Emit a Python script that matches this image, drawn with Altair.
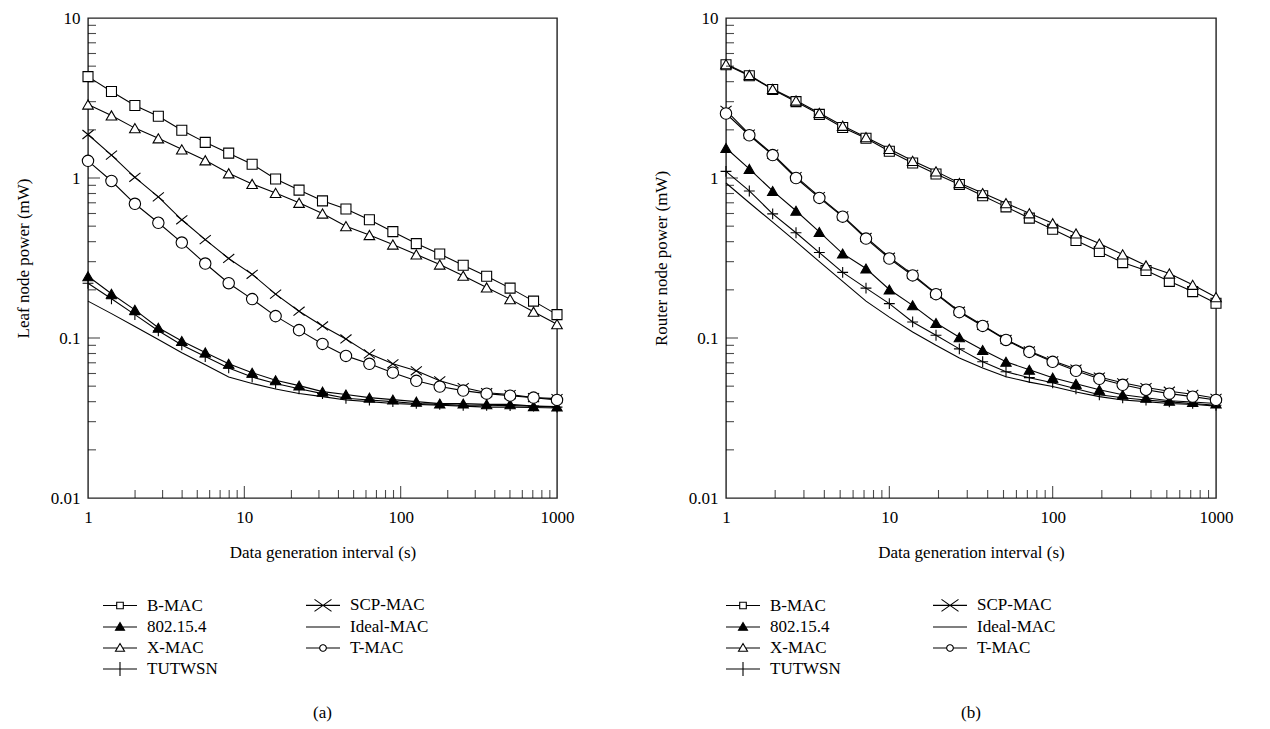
import math
import altair as alt
import pandas as pd

FONT = "Liberation Serif"
WL, WR, H = 469, 490, 480
FS = 17

# x positions of the simulated points (log spaced, 1 .. 1000 s)
X_LEAF = [1, 1.413, 1.995, 2.818, 3.981, 5.623, 7.943, 11.22, 15.85, 22.39, 31.62,
          44.67, 63.10, 89.13, 125.9, 177.8, 251.2, 354.8, 501.2, 707.9, 1000]
X_ROUTER = [1, 1.389, 1.931, 2.683, 3.728, 5.179, 7.197, 10.0, 13.89, 19.31, 26.83,
            37.28, 51.79, 71.97, 100.0, 138.9, 193.1, 268.3, 372.8, 517.9, 719.7, 1000]

# (a) leaf node power (mW)
leaf_bmac = [4.30, 3.47, 2.84, 2.43, 1.99, 1.67, 1.43, 1.22, 0.986, 0.84, 0.72,
             0.64, 0.548, 0.462, 0.389, 0.335, 0.285, 0.243, 0.205, 0.17, 0.14]
leaf_802 = [0.243, 0.189, 0.15, 0.116, 0.0957, 0.0813, 0.069, 0.0607, 0.0544, 0.0504, 0.0462,
            0.0443, 0.0424, 0.0412, 0.040, 0.0389, 0.0389, 0.0385, 0.0385, 0.0375, 0.0373]
leaf_xmac = [2.88, 2.46, 2.05, 1.77, 1.51, 1.29, 1.07, 0.918, 0.807, 0.70, 0.60,
             0.50, 0.44, 0.384, 0.333, 0.288, 0.245, 0.207, 0.175, 0.146, 0.122]
leaf_tut = [0.22, 0.176, 0.14, 0.111, 0.0905, 0.0765, 0.065, 0.057, 0.052, 0.0482, 0.0449,
            0.042, 0.041, 0.040, 0.039, 0.0385, 0.038, 0.038, 0.0378, 0.0375, 0.037]
leaf_scp = [1.87, 1.39, 1.01, 0.762, 0.548, 0.412, 0.314, 0.25, 0.188, 0.147, 0.119,
            0.0986, 0.0796, 0.069, 0.0624, 0.054, 0.049, 0.0455, 0.0443, 0.0424, 0.0418]
leaf_ideal = [0.17, 0.142, 0.118, 0.098, 0.081, 0.068, 0.057, 0.052, 0.048, 0.045, 0.043,
              0.041, 0.040, 0.039, 0.0385, 0.038, 0.0375, 0.037, 0.037, 0.0368, 0.0365]
leaf_tmac = [1.28, 0.958, 0.69, 0.525, 0.395, 0.292, 0.22, 0.175, 0.137, 0.112, 0.0918,
             0.0773, 0.069, 0.0607, 0.054, 0.0497, 0.0469, 0.0449, 0.0436, 0.0424, 0.041]

# (b) router node power (mW)
router_bmac = [5.1, 4.36, 3.57, 3.0, 2.5, 2.07, 1.77, 1.47, 1.24, 1.06, 0.91,
               0.775, 0.66, 0.561, 0.478, 0.407, 0.347, 0.296, 0.264, 0.226, 0.195, 0.165]
router_802 = [1.54, 1.14, 0.83, 0.624, 0.46, 0.337, 0.272, 0.201, 0.16, 0.124, 0.101,
              0.0841, 0.071, 0.0633, 0.0565, 0.0518, 0.0475, 0.0442, 0.0423, 0.0405, 0.0398, 0.039]
router_xmac = [5.15, 4.4, 3.6, 3.05, 2.55, 2.12, 1.8, 1.52, 1.28, 1.1, 0.93,
               0.805, 0.696, 0.602, 0.521, 0.45, 0.389, 0.333, 0.284, 0.253, 0.215, 0.18]
router_tut = [1.1, 0.83, 0.597, 0.455, 0.342, 0.257, 0.205, 0.164, 0.126, 0.104, 0.0855,
              0.071, 0.0615, 0.0565, 0.0525, 0.0482, 0.0442, 0.0423, 0.041, 0.0399, 0.039, 0.038]
router_scp = [2.65, 1.88, 1.41, 1.02, 0.765, 0.58, 0.425, 0.32, 0.25, 0.19, 0.147,
              0.12, 0.098, 0.083, 0.072, 0.064, 0.057, 0.0525, 0.049, 0.0465, 0.0445, 0.042]
router_ideal = [0.93, 0.70, 0.53, 0.40, 0.30, 0.226, 0.17, 0.135, 0.109, 0.09, 0.0751,
                0.065, 0.0573, 0.053, 0.0497, 0.046, 0.043, 0.041, 0.040, 0.039, 0.0385, 0.0375]
router_tmac = [2.53, 1.85, 1.39, 1.0, 0.751, 0.573, 0.418, 0.314, 0.246, 0.188, 0.145,
               0.119, 0.0972, 0.0819, 0.071, 0.0624, 0.0556, 0.051, 0.0475, 0.0449, 0.043, 0.041]

SERIES = ["B-MAC", "802.15.4", "X-MAC", "TUTWSN", "SCP-MAC", "Ideal-MAC", "T-MAC"]

X_TICK_LABELS = [1, 10, 100, 1000]
Y_TICK_LABELS = [0.01, 0.1, 1, 10]
X_MINOR = [2, 3, 4, 5, 6, 7, 8, 9, 20, 30, 40, 50, 60, 70, 80, 90, 200, 300, 400, 500, 600, 700, 800, 900]
X_MAJOR = [10, 100]
Y_MINOR = [0.02, 0.03, 0.04, 0.05, 0.06, 0.07, 0.08, 0.09, 0.2, 0.3, 0.4, 0.5, 0.6, 0.7, 0.8, 0.9,
           2, 3, 4, 5, 6, 7, 8, 9]
Y_MAJOR = [0.1, 1]


def make_df(xs, values):
    rows = []
    for name, vals in zip(SERIES, values):
        for x, y in zip(xs, vals):
            rows.append({"x": x, "y": y, "series": name})
    return pd.DataFrame(rows)


leaf_df = make_df(X_LEAF, [leaf_bmac, leaf_802, leaf_xmac, leaf_tut, leaf_scp, leaf_ideal, leaf_tmac])
router_df = make_df(X_ROUTER, [router_bmac, router_802, router_xmac, router_tut, router_scp,
                               router_ideal, router_tmac])

xscale = alt.Scale(type="log", domain=[1, 1000], nice=False)
yscale = alt.Scale(type="log", domain=[0.01, 10], nice=False)

XTITLE = "Data generation interval (s)"


def x_axis():
    return alt.Axis(values=X_TICK_LABELS, format="~g", ticks=False, domain=False, grid=False,
                    labelFlush=False, labelFont=FONT, labelFontSize=FS, labelColor="black",
                    labelPadding=11, title=XTITLE, titleFont=FONT, titleFontSize=FS,
                    titleFontWeight="normal", titleColor="black", titlePadding=19)


def y_axis(title):
    return alt.Axis(values=Y_TICK_LABELS, format="~g", ticks=False, domain=False, grid=False,
                    labelFont=FONT, labelFontSize=FS, labelColor="black", labelPadding=8,
                    title=title, titleFont=FONT, titleFontSize=FS, titleFontWeight="normal",
                    titleColor="black", titlePadding=18)


# marker styles
PLUS = "M-1,0H1M0,-1V1"
CROSS = "M-1,-0.8L1,0.8M-1,0.8L1,-0.8"
PT_SERIES = ["B-MAC", "802.15.4", "X-MAC", "TUTWSN", "SCP-MAC", "T-MAC"]
PT_SHAPES = ["square", "triangle-up", "triangle-up", PLUS, CROSS, "circle"]
PT_FILLS = ["white", "black", "white", "white", "white", "white"]


def circle_path(r, n=24):
    pts = [(r * math.cos(2 * math.pi * i / n), r * math.sin(2 * math.pi * i / n)) for i in range(n)]
    return "M" + "L".join(f"{a:.3f},{b:.3f}" for a, b in pts) + "Z"


L = 1.7
LEG_PATH = {
    "B-MAC": f"M{-L},0H-0.33M0.33,0H{L}M-0.33,-0.33H0.33V0.33H-0.33Z",
    "802.15.4": f"M{-L},0H{L}M0,-0.45L0.45,0.32H-0.45Z",
    "X-MAC": f"M{-L},0H-0.27M0.27,0H{L}M0,-0.45L0.45,0.32H-0.45Z",
    "TUTWSN": f"M{-L},0H{L}M0,-0.7V0.7",
    "SCP-MAC": f"M{-L},0H{L}M-0.85,-0.6L0.85,0.6M-0.85,0.6L0.85,-0.6",
    "Ideal-MAC": f"M{-L},0H{L}",
    "T-MAC": f"M{-L},0H-0.33M0.33,0H{L}" + circle_path(0.33),
}
LEG_FILL = {"802.15.4": "black"}


def panel(df, width, ytitle, label, sizes, legend_x, col_pad):
    xa = x_axis()
    ya = y_axis(ytitle)
    base = alt.Chart(df)
    lines = base.mark_line(color="black", strokeWidth=1.1).encode(
        x=alt.X("x:Q", scale=xscale, axis=xa),
        y=alt.Y("y:Q", scale=yscale, axis=ya),
        detail="series:N",
    )
    pts = base.transform_filter("datum.series != 'Ideal-MAC'").mark_point(
        filled=True, stroke="black", strokeWidth=1.1, opacity=1
    ).encode(
        x=alt.X("x:Q", scale=xscale, axis=xa),
        y=alt.Y("y:Q", scale=yscale, axis=ya),
        shape=alt.Shape("series:N", scale=alt.Scale(domain=PT_SERIES, range=PT_SHAPES), legend=None),
        fill=alt.Fill("series:N", scale=alt.Scale(domain=PT_SERIES, range=PT_FILLS), legend=None),
        size=alt.Size("series:N", scale=alt.Scale(domain=PT_SERIES, range=sizes), legend=None),
    )
    xminor = alt.Chart(pd.DataFrame({"v": X_MINOR})).mark_tick(
        orient="vertical", size=16, thickness=1.1, color="black", clip=True
    ).encode(x=alt.X("v:Q", scale=xscale, axis=xa), y=alt.YDatum(0.01, scale=yscale, axis=ya))
    xmajor = alt.Chart(pd.DataFrame({"v": X_MAJOR})).mark_tick(
        orient="vertical", size=24, thickness=1.1, color="black", clip=True
    ).encode(x=alt.X("v:Q", scale=xscale, axis=xa), y=alt.YDatum(0.01, scale=yscale, axis=ya))
    yminor = alt.Chart(pd.DataFrame({"v": Y_MINOR})).mark_tick(
        orient="horizontal", size=16, thickness=1.1, color="black", clip=True
    ).encode(y=alt.Y("v:Q", scale=yscale, axis=ya), x=alt.XDatum(1, scale=xscale, axis=xa))
    ymajor = alt.Chart(pd.DataFrame({"v": Y_MAJOR})).mark_tick(
        orient="horizontal", size=24, thickness=1.1, color="black", clip=True
    ).encode(y=alt.Y("v:Q", scale=yscale, axis=ya), x=alt.XDatum(1, scale=xscale, axis=xa))

    leg = alt.Legend(
        orient="none", legendX=legend_x, legendY=H + 96, columns=2, columnPadding=col_pad,
        rowPadding=2, symbolSize=400, symbolStrokeColor="black", symbolStrokeWidth=1.1,
        symbolOpacity=1, labelFont=FONT, labelFontSize=FS, labelColor="black", labelOffset=16,
        title=None, labelLimit=300,
    )
    leg_df = pd.DataFrame({"entry": SERIES})
    legend_layer = alt.Chart(leg_df).transform_filter("false").mark_point(
        filled=False, strokeWidth=1.1, opacity=1
    ).encode(
        shape=alt.Shape("entry:N", scale=alt.Scale(domain=SERIES,
                                                   range=[LEG_PATH[n] for n in SERIES]), legend=leg),
        fill=alt.Fill("entry:N", scale=alt.Scale(domain=SERIES,
                                                 range=[LEG_FILL.get(n, "white") for n in SERIES]), legend=leg),
        stroke=alt.Stroke("entry:N", scale=alt.Scale(domain=SERIES, range=["black"] * len(SERIES)),
                          legend=leg),
    )

    return alt.layer(lines, pts, xminor, xmajor, yminor, ymajor, legend_layer).resolve_scale(
        shape="independent", fill="independent", stroke="independent"
    ).properties(
        width=width, height=H,
        title=alt.TitleParams(label, orient="bottom", font=FONT, fontSize=FS, fontWeight="normal",
                              color="black", offset=26, frame="group"),
    )


left = panel(leaf_df, WL, "Leaf node power (mW)", "(a)", [100, 130, 130, 256, 484, 80], 21, 85)
right = panel(router_df, WR, "Router node power (mW)", "(b)", [100, 130, 130, 300, 324, 100], 6, 89)

chart = alt.hconcat(left, right, spacing=76).resolve_scale(
    shape="independent", fill="independent", size="independent", stroke="independent"
).properties(
    padding={"left": 5, "top": 0, "right": 5, "bottom": 0}
).configure_view(stroke="#222222", strokeWidth=1.4)

chart.save("out.html", embed_options={"renderer": "svg", "actions": False})
